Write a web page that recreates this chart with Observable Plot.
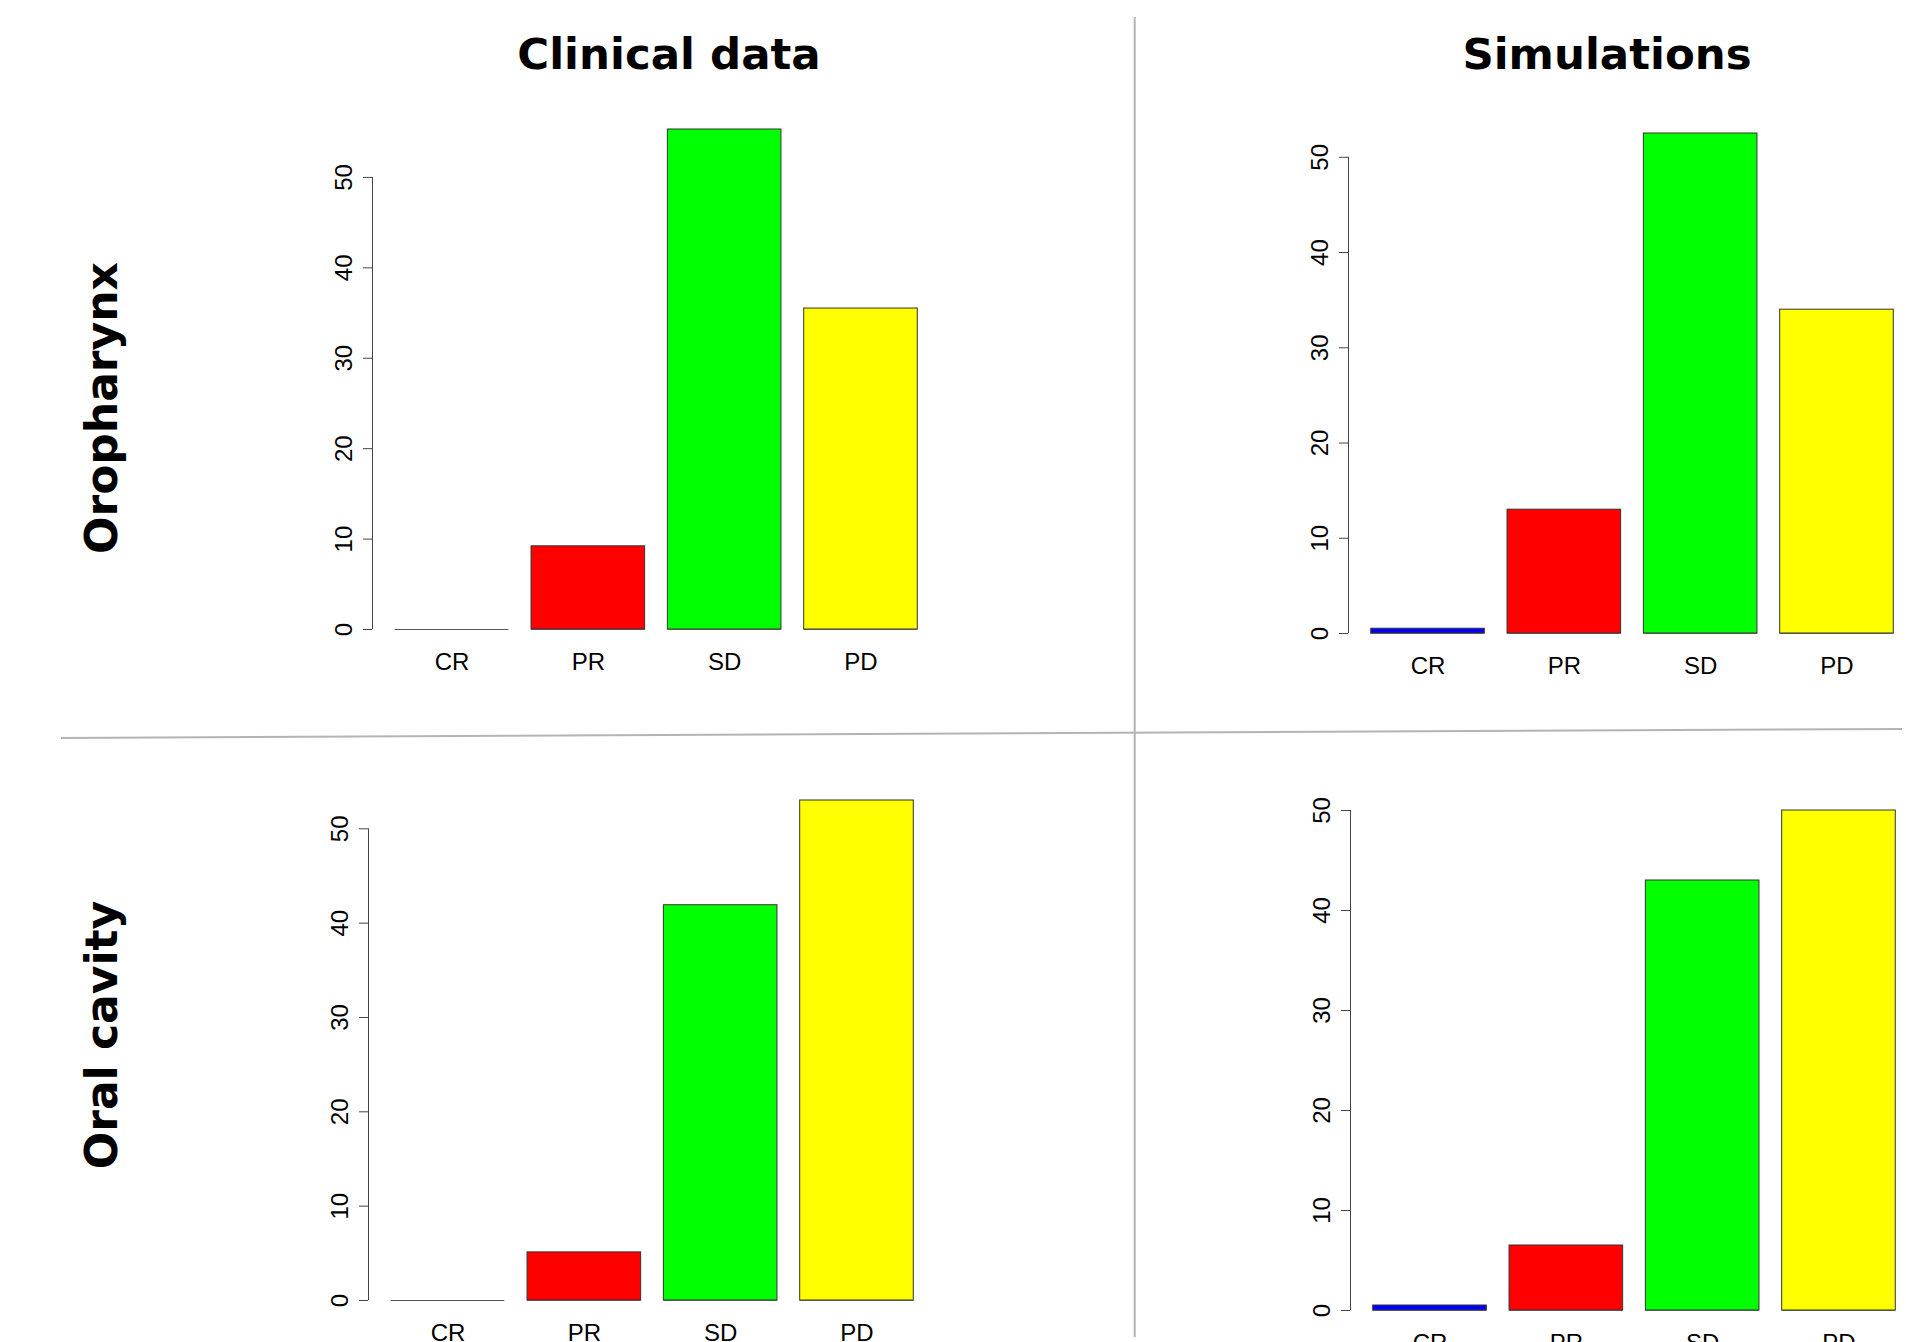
<!DOCTYPE html>
<html>
<head>
<meta charset="utf-8">
<script src="https://cdn.jsdelivr.net/npm/d3@7"></script>
<script src="https://cdn.jsdelivr.net/npm/@observablehq/plot@0.6"></script>
<style>
  html, body { margin: 0; padding: 0; background: #fff; overflow: hidden; }
  #page { position: relative; width: 1906px; height: 1342px; overflow: hidden; background: #fff; }
</style>
</head>
<body>
<div id="page"></div>
<script>
// Tumour response categories and their bar colours
const categories = ["CR", "PR", "SD", "PD"];
const barColors = ["#0000ff", "#ff0000", "#00ff00", "#ffff00"];

// Percentage of patients per response category
const oropharynxClinical  = [0, 9.2, 55.3, 35.5];
const oropharynxSimulated = [0.5, 13.0, 52.5, 34.0];
const oralCavityClinical  = [0, 5.1, 41.9, 53.0];
const oralCavitySimulated = [0.5, 6.5, 43.0, 50.0];

const yTicks = [0, 10, 20, 30, 40, 50];
const columnTitles = ["Clinical data", "Simulations"];
const rowTitles = ["Oropharynx", "Oral cavity"];

// barplot-style layout: bars one unit wide, separated by 0.2 of a unit
const barWidth = 1, barSpace = 0.2;
const margin = {left: 130, right: 10, top: 10, bottom: 50};
const plotW = 568, plotH = 540;

const page = document.getElementById("page");

function panel(values, regionLeft, regionTop) {
  const rows = categories.map((category, i) => {
    const x1 = barSpace + i * (barWidth + barSpace);
    return {category, value: values[i], color: barColors[i], x1, x2: x1 + barWidth, mid: x1 + barWidth / 2};
  });
  const ymax = d3.max(values);
  const xmax = categories.length * (barWidth + barSpace) + barSpace;
  const chart = Plot.plot({
    width: margin.left + plotW + margin.right,
    height: margin.top + plotH + margin.bottom,
    marginLeft: margin.left,
    marginRight: margin.right,
    marginTop: margin.top,
    marginBottom: margin.bottom,
    x: {domain: [0, xmax], axis: null},
    y: {domain: [-0.04 * ymax, 1.04 * ymax], axis: null},
    color: {type: "identity"},
    style: {
      fontFamily: "'Liberation Sans', Arial, sans-serif",
      fontSize: "24px",
      color: "#000",
      background: "transparent",
      overflow: "visible"
    },
    marks: [
      Plot.rect(rows, {x1: "x1", x2: "x2", y1: 0, y2: "value", fill: "color", stroke: "#333", strokeWidth: 1}),
      Plot.ruleY(rows, {x1: "x1", x2: "x2", y: 0, stroke: "#555", strokeWidth: 1}),
      Plot.ruleX([0], {y1: 0, y2: d3.max(yTicks), stroke: "#444", strokeWidth: 1}),
      Plot.axisY({ticks: yTicks, tickRotate: -90, tickSize: 9, tickPadding: 12, fontSize: 24, stroke: "#444", fill: "#000", label: null}),
      Plot.text(rows, {x: "mid", text: "category", frameAnchor: "bottom", lineAnchor: "top", dy: 3.5, fontSize: 24, fill: "#000"})
    ]
  });
  chart.style.position = "absolute";
  chart.style.left = (regionLeft - margin.left) + "px";
  chart.style.top = (regionTop - margin.top) + "px";
  chart.style.maxWidth = "none";
  page.appendChild(chart);
}

panel(oropharynxClinical, 372, 109);
panel(oropharynxSimulated, 1347.5, 113.3);
panel(oralCavityClinical, 368.3, 780);
panel(oralCavitySimulated, 1350, 790);

// Column / row headings and the grid separators
const overlay = d3.create("svg")
  .attr("width", 1906).attr("height", 1342)
  .style("position", "absolute").style("left", 0).style("top", 0)
  .style("pointer-events", "none");

overlay.append("line")
  .attr("x1", 1134.7).attr("y1", 17).attr("x2", 1134.7).attr("y2", 1337)
  .attr("stroke", "#b4b4b4").attr("stroke-width", 2);
overlay.append("line")
  .attr("x1", 61).attr("y1", 738).attr("x2", 1902).attr("y2", 729)
  .attr("stroke", "#b4b4b4").attr("stroke-width", 2);

const headFont = "'DejaVu Sans', Verdana, sans-serif";
[669, 1607].forEach((cx, i) => {
  overlay.append("text")
    .attr("x", cx).attr("y", 68.5)
    .attr("text-anchor", "middle")
    .attr("font-family", headFont).attr("font-weight", "bold").attr("font-size", 43.5)
    .attr("fill", "#000")
    .text(columnTitles[i]);
});
[408, 1035].forEach((cy, i) => {
  overlay.append("text")
    .attr("transform", `translate(117,${cy}) rotate(-90)`)
    .attr("text-anchor", "middle")
    .attr("font-family", headFont).attr("font-weight", "bold").attr("font-size", 44)
    .attr("fill", "#000")
    .text(rowTitles[i]);
});

page.appendChild(overlay.node());
</script>
</body>
</html>
